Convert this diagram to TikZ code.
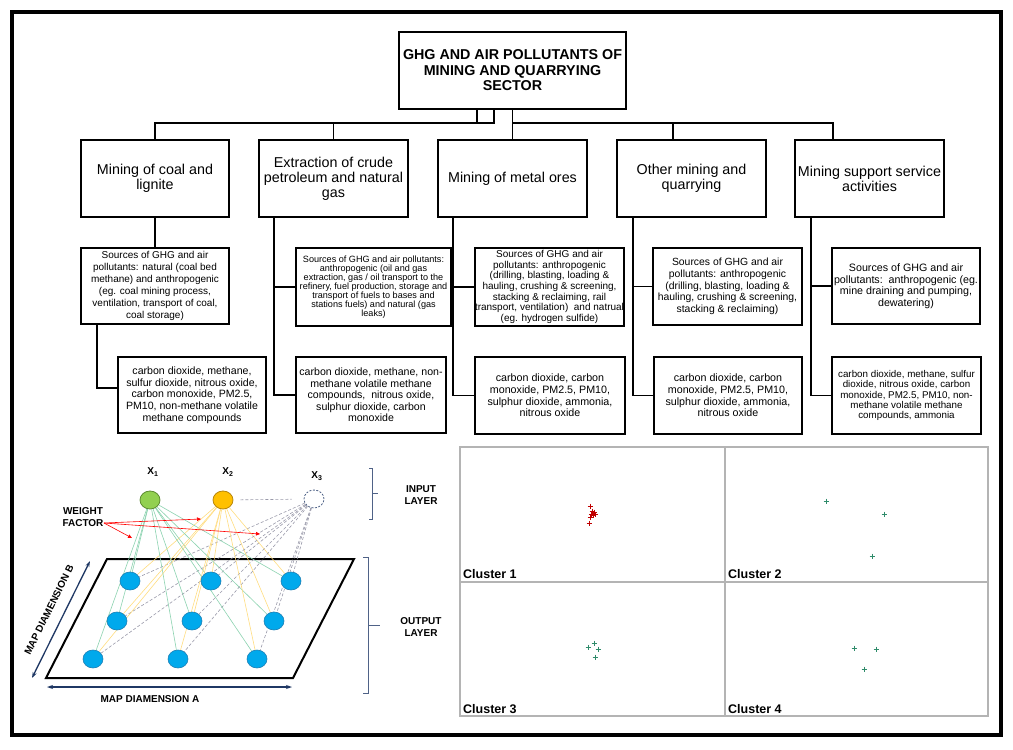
\documentclass[tikz,border=0pt]{standalone}
\usepackage{fontspec}
\setmainfont{Liberation Sans}
\usetikzlibrary{shapes.geometric,arrows.meta}
\pgfdeclarelayer{bg}
\pgfsetlayers{bg,main}
\definecolor{gfill}{HTML}{92D050}
\definecolor{gdraw}{HTML}{5E8C31}
\definecolor{ofill}{HTML}{FFC000}
\definecolor{odraw}{HTML}{B8860B}
\definecolor{bfill}{HTML}{00A9EC}
\definecolor{bdraw}{HTML}{1C7FB5}
\definecolor{glines}{HTML}{8CD3B0}
\definecolor{olines}{HTML}{FFDD80}
\definecolor{dlines}{HTML}{9A9AAA}
\definecolor{navy}{HTML}{1F3864}
\definecolor{slate}{HTML}{4F6287}
\definecolor{panelc}{HTML}{B4B4B4}
\definecolor{cred}{HTML}{C00000}
\definecolor{cgreen}{HTML}{2E8B6A}
\newcommand\setfs[2]{\fontsize{#1}{#2}\selectfont}
\newcommand\mybox[7]{\node[rbox, font={#6}, minimum width={(#4-#2)*1pt}, minimum height={(#5-#3)*1pt}] (#1) at ({(#2+#4)/2},{(#3+#5)/2}) {#7};}
\begin{document}
\begin{tikzpicture}[x=1pt,y=-1pt,
  conn/.style={line width=1.6pt},
  rbox/.style={draw, line width=1.8pt, inner sep=0pt, align=center, fill=white},
  inode/.style={ellipse, minimum width=20pt, minimum height=18pt, inner sep=0pt, line width=0.8pt},
  bnode/.style={ellipse, minimum width=20pt, minimum height=18pt, inner sep=0pt, line width=0.6pt, fill=bfill, draw=bdraw},
  lbl/.style={font=\bfseries\setfs{10}{12}, align=center, inner sep=0pt},
  clbl/.style={font=\bfseries\setfs{12.5}{14}, inner sep=0pt, anchor=base west},
  gline/.style={glines, line width=0.6pt},
  oline/.style={olines, line width=0.6pt},
  dline/.style={dlines, line width=0.6pt, dash pattern=on 3pt off 2pt},
  redarrow/.style={red, line width=0.6pt, -{Triangle[length=4pt,width=3.5pt]}},
  maparrow/.style={navy, line width=1.3pt, {Stealth[length=6pt,width=4pt]}-{Stealth[length=6pt,width=4pt]}},
  bracec/.style={slate, line width=0.8pt}
]
\useasboundingbox (0,0) rectangle (1013,750);
\begin{pgfonlayer}{bg}
\fill[white] (0,0) rectangle (1013,750);
\end{pgfonlayer}
\draw[line width=4pt] (12,12) rectangle (1001,735);

% ---------- tree ----------
\mybox{T}{399}{32}{626}{109}{\bfseries\setfs{14.3}{15.5}}{GHG AND AIR POLLUTANTS OF\\MINING AND QUARRYING\\SECTOR}

\mybox{B1}{81}{140}{229}{217}{\setfs{14.3}{15}}{Mining of coal and\\lignite}
\mybox{B2}{259}{140}{408}{217}{\setfs{14.3}{15}}{Extraction of crude\\petroleum and natural\\gas}
\mybox{B3}{438}{140}{587}{217}{\setfs{14.3}{15}}{Mining of metal ores}
\mybox{B4}{617}{140}{766}{217}{\setfs{14.3}{15}}{Other mining and\\quarrying}
\mybox{B5}{795}{140}{944}{217}{\setfs{14.3}{15}}{Mining support service\\activities}

\mybox{S1}{81}{248}{229}{324}{\setfs{10}{12}}{Sources of GHG and air\\pollutants: natural (coal bed\\methane) and anthropogenic\\(eg. coal mining process,\\ventilation, transport of coal,\\coal storage)}
\mybox{S2}{296}{248}{451}{326}{\setfs{9.1}{8.9}}{Sources of GHG and air pollutants:\\anthropogenic (oil and gas\\extraction, gas / oil transport to the\\refinery, fuel production, storage and\\transport of fuels to bases and\\stations fuels) and natural (gas\\leaks)}
\mybox{S3}{475}{248}{624}{326}{\setfs{10}{10.6}}{Sources of GHG and air\\pollutants: anthropogenic\\(drilling, blasting, loading \&\\hauling, crushing \& screening,\\stacking \& reclaiming, rail\\transport, ventilation)\ \ and natrual\\(eg. hydrogen sulfide)}
\mybox{S4}{653}{248}{802}{325}{\setfs{10.4}{11.7}}{Sources of GHG and air\\pollutants: anthropogenic\\(drilling, blasting, loading \&\\hauling, crushing \& screening,\\stacking \& reclaiming)}
\mybox{S5}{832}{248}{980}{324}{\setfs{10.7}{11.5}}{Sources of GHG and air\\pollutants:\ \ anthropogenic (eg.\\mine draining and pumping,\\dewatering)}

\mybox{P1}{118}{357}{266}{433}{\setfs{10.6}{11.7}}{carbon dioxide, methane,\\sulfur dioxide, nitrous oxide,\\carbon monoxide, PM2.5,\\PM10, non-methane volatile\\methane compounds}
\mybox{P2}{296}{357}{446}{433}{\setfs{10.6}{11.5}}{carbon dioxide, methane, non-\\methane volatile methane\\compounds,\ \ nitrous oxide,\\sulphur dioxide, carbon\\monoxide}
\mybox{P3}{475}{357}{625}{434}{\setfs{10.7}{11.7}}{carbon dioxide, carbon\\monoxide, PM2.5, PM10,\\sulphur dioxide, ammonia,\\nitrous oxide}
\mybox{P4}{654}{357}{802}{434}{\setfs{10.7}{11.7}}{carbon dioxide, carbon\\monoxide, PM2.5, PM10,\\sulphur dioxide, ammonia,\\nitrous oxide}
\mybox{P5}{832}{357}{981}{434}{\setfs{9.8}{10.3}}{carbon dioxide, methane, sulfur\\dioxide, nitrous oxide, carbon\\monoxide, PM2.5, PM10, non-\\methane volatile methane\\compounds, ammonia}

\coordinate (jL) at (494,123);
\coordinate (jL2) at (477,123);
\coordinate (jM) at (513,123);
\coordinate (jR) at (833,123);
\coordinate (j4) at (673,123);
\draw[conn] (B1.north) |- (jL) -- (jL |- T.south);
\draw[conn] (jL2) -- (jL2 |- T.south);
\draw[conn] (B2.north) -- (B2.north |- jL);
\draw[conn] (T.south -| B3.north) -- (B3.north);
\draw[conn] (jM) -- (jR) -- (jR |- B5.north);
\draw[conn] (j4) -- (j4 |- B4.north);

\draw[conn] (B1.south) -- (S1.north);
\coordinate (k1) at (97,388);
\draw[conn] (k1 |- S1.south) -- (k1) -- (k1 -| P1.west);
\foreach \i/\kx in {2/274,3/453,4/633,5/811}{
  \coordinate (k\i) at (\kx,0);
  \draw[conn] (k\i |- B\i.south) -- (k\i |- P\i.west) -- (P\i.west);
  \draw[conn] (k\i |- S\i.west) -- (S\i.west);
}

% ---------- network ----------
\node[inode, fill=gfill, draw=gdraw] (x1) at (150,500) {};
\node[inode, fill=ofill, draw=odraw] (x2) at (223,500) {};
\node[inode, draw=slate, dash pattern=on 2pt off 1.5pt] (x3) at (314,499) {};
\node[lbl] (lx1) at (153,472) {X\textsubscript{1}};
\node[lbl] (lx2) at (228,472) {X\textsubscript{2}};
\node[lbl] (lx3) at (317,476) {X\textsubscript{3}};

\node[bnode] (n11) at (130,581) {};
\node[bnode] (n12) at (211,581) {};
\node[bnode] (n13) at (291,581) {};
\node[bnode] (n21) at (117,621) {};
\node[bnode] (n22) at (192,621) {};
\node[bnode] (n23) at (274,621) {};
\node[bnode] (n31) at (93,659) {};
\node[bnode] (n32) at (178,659) {};
\node[bnode] (n33) at (257,659) {};

\begin{pgfonlayer}{bg}
  \draw[line width=2pt, fill=white] (107,559) -- (354,559) -- (293,678) -- (46,678) -- cycle;
  \foreach \n in {n11,n12,n13,n21,n22,n23,n31,n32,n33}{
    \draw[gline] (x1) -- (\n);
    \draw[oline] (x2) -- (\n);
    \draw[dline] (x3) -- (\n);
  }
  \draw[dline, shorten <=7pt, shorten >=12pt] (x2) -- (x3);
\end{pgfonlayer}

\node[lbl] (wf) at (83,517) {WEIGHT\\FACTOR};
\coordinate (wfe) at (104,523);
\coordinate (r1) at (201,519);
\coordinate (r2) at (260,534);
\coordinate (r3) at (132,538);
\draw[redarrow] (wfe) -- (r1);
\draw[redarrow] (wfe) -- (r2);
\draw[redarrow] (wfe) -- (r3);

\node[lbl] (inl) at (421,495) {INPUT\\LAYER};
\node[lbl] (outl) at (421,627) {OUTPUT\\LAYER};
\coordinate (ib1) at (369,468);
\coordinate (ib2) at (369,519);
\coordinate (ob1) at (363,557);
\coordinate (ob2) at (363,693);
\draw[bracec] (ib1) -- ++(3.5,0) -- ++(0,51) -- (ib2);
\draw[bracec] (372.5,493) -- (378,493);
\draw[bracec] (ob1) -- ++(5,0) -- ++(0,136) -- (ob2);
\draw[bracec] (368,625) -- (380,625);

\coordinate (mb1) at (32,678);
\coordinate (mb2) at (90,561);
\coordinate (ma1) at (47,687);
\coordinate (ma2) at (292,687);
\draw[maparrow] (mb1) -- (mb2);
\draw[maparrow] (ma1) -- (ma2);
\node[lbl, rotate=63.6] (mdb) at (49,610) {MAP DIAMENSION B};
\node[lbl] (mda) at (150,699) {MAP DIAMENSION A};

% ---------- clusters ----------
\draw[panelc, line width=1.5pt] (460,447) rectangle (988,716);
\draw[panelc, line width=1.5pt] (725,447) -- (725,716);
\draw[panelc, line width=1.5pt] (460,582) -- (988,582);
\node[clbl] (c1) at (463,578) {Cluster 1};
\node[clbl] (c2) at (728,578) {Cluster 2};
\node[clbl] (c3) at (463,713) {Cluster 3};
\node[clbl] (c4) at (728,713) {Cluster 4};
\foreach \x/\y in {590/506,592/511,594/512,591/514,593/515,595/514,590/517,589/523}{
  \draw[cred, line width=0.8pt] (\x-2.5,\y) -- (\x+2.5,\y) (\x,\y-2.5) -- (\x,\y+2.5);
}
\foreach \x/\y in {826/501,884/514,872/556,588/647,594/643,598/649,595/657,854/648,876/649,864/669}{
  \draw[cgreen, line width=0.7pt] (\x-2.5,\y) -- (\x+2.5,\y) (\x,\y-2.5) -- (\x,\y+2.5);
}
\end{tikzpicture}
\end{document}
